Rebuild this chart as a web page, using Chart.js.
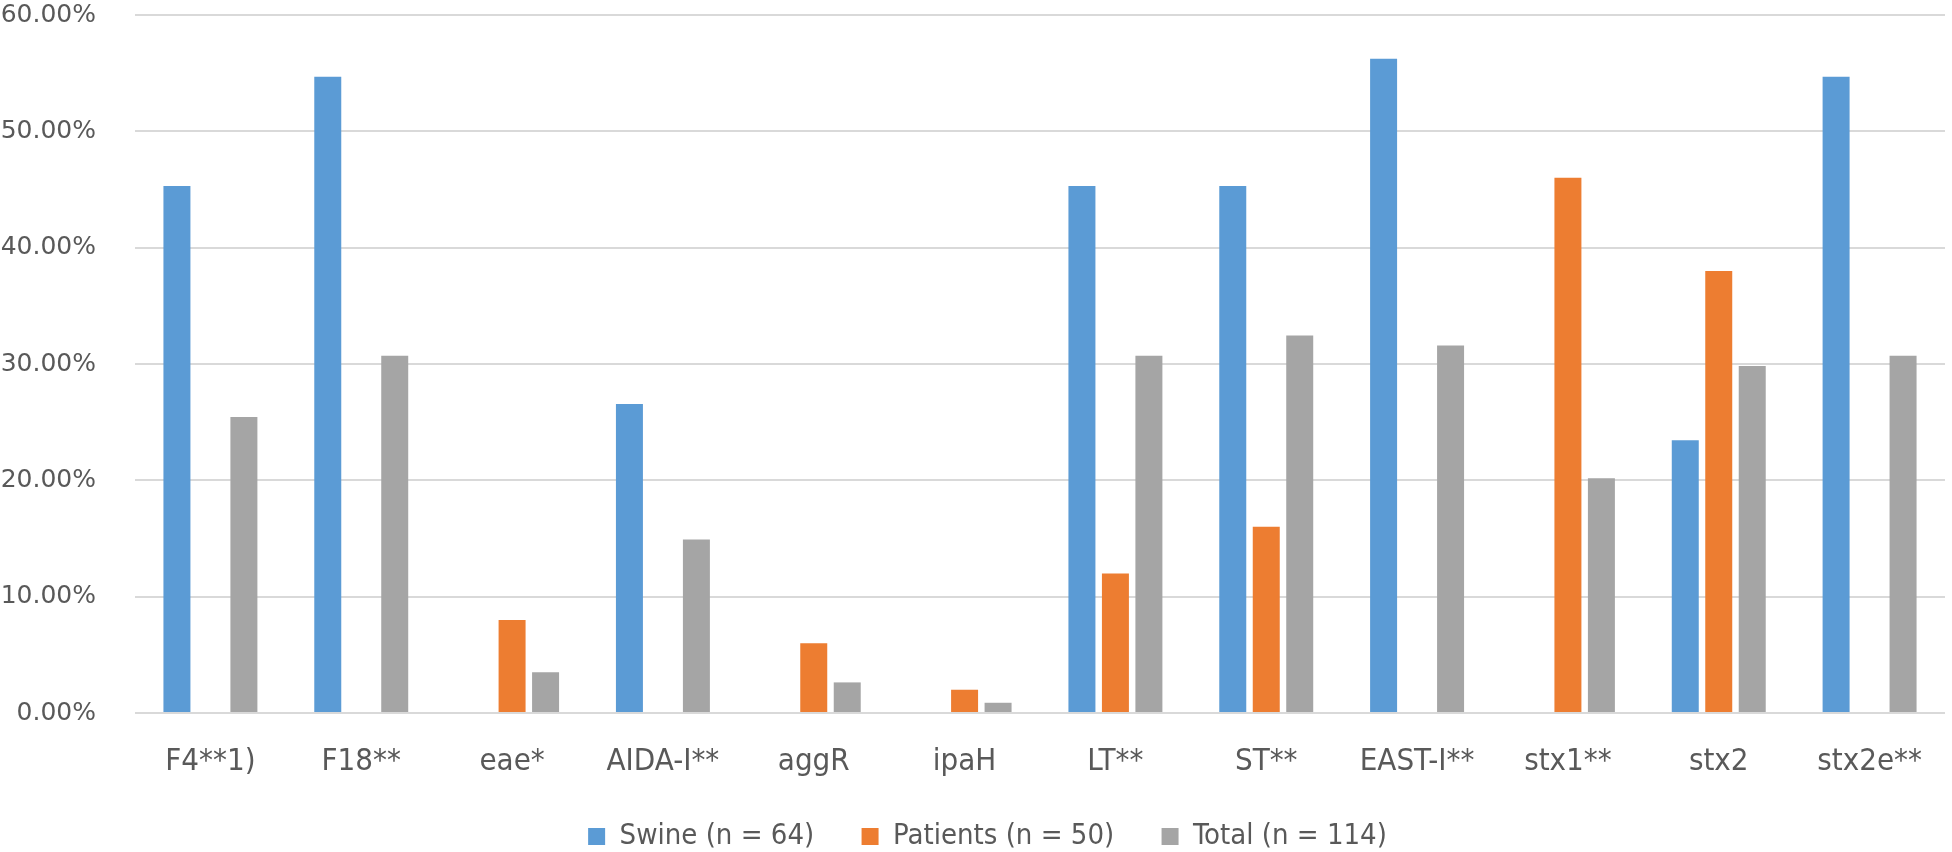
<!DOCTYPE html>
<html>
<head>
<meta charset="utf-8">
<script src="https://cdn.jsdelivr.net/npm/chart.js@4.4.0/dist/chart.umd.min.js"></script>
<style>
  html, body { margin: 0; padding: 0; background: #fff; }
</style>
</head>
<body>
<canvas id="myChart" width="1952" height="852"></canvas>
<script>
const genes = ['F4**1)', 'F18**', 'eae*', 'AIDA-I**', 'aggR', 'ipaH', 'LT**', 'ST**', 'EAST-I**', 'stx1**', 'stx2', 'stx2e**']
const swine = [45.31, 54.69, 0, 26.56, 0, 0, 45.31, 45.31, 56.25, 0, 23.44, 54.69]
const patients = [0, 0, 8, 0, 6, 2, 12, 16, 0, 46, 38, 0]
const total = [25.44, 30.70, 3.51, 14.91, 2.63, 0.88, 30.70, 32.46, 31.58, 20.18, 29.82, 30.70]
const seriesNames = ['Swine (n = 64)', 'Patients (n = 50)', 'Total (n = 114)']
const barColors = ['#5B9BD5', '#ED7D31', '#A5A5A5']

const textColor = '#595959'
const gridColor = '#D9D9D9'
const labelFont = 'DejaVu Sans Condensed'

// nudge the legend a bit right, it sits under the plot rather than the whole canvas
const legendShift = {
    id: 'legendShift',
    afterLayout: chart => { chart.legend.left += 30 }
}

let chart = new Chart('myChart', {
    type: 'bar',
    data: {
        labels: genes,
        datasets: [swine, patients, total].map((values, i) => ({
            label: seriesNames[i],
            data: values,
            backgroundColor: barColors[i],
            borderWidth: 0,
            categoryPercentage: 0.666,
            barPercentage: 0.806
        }))
    },
    options: {
        responsive: false,
        animation: false,
        layout: {
            padding: { left: 0, right: 7, top: 0, bottom: -9 }
        },
        plugins: {
            legend: {
                position: 'bottom',
                labels: {
                    boxWidth: 17,
                    boxHeight: 17,
                    padding: 13,
                    color: textColor,
                    font: { family: labelFont, size: 29 },
                    // widen the gap between items without making the legend taller
                    generateLabels: chart => {
                        const items = Chart.defaults.plugins.legend.labels.generateLabels(chart)
                        items.forEach((item, i) => {
                            if (i < items.length - 1) item.text += '\u2003\u00A0'
                        })
                        return items
                    }
                }
            },
            tooltip: { enabled: false }
        },
        scales: {
            x: {
                grid: { display: false },
                border: { display: false },
                ticks: {
                    color: textColor,
                    padding: 22,
                    maxRotation: 0,
                    autoSkip: false,
                    font: { family: labelFont, size: 31 }
                },
                afterFit: scale => { scale.height = 96 }
            },
            y: {
                min: 0,
                max: 60,
                grid: { color: gridColor, lineWidth: 2, drawTicks: false },
                border: { display: false },
                ticks: {
                    stepSize: 10,
                    padding: 39,
                    color: textColor,
                    font: { family: 'DejaVu Sans', size: 25 },
                    callback: v => v.toFixed(2) + '%'
                },
                afterFit: scale => {
                    scale.width = 135
                    scale.paddingTop = 15
                    scale.paddingBottom = 0
                }
            }
        }
    },
    plugins: [legendShift]
});
</script>
</body>
</html>
